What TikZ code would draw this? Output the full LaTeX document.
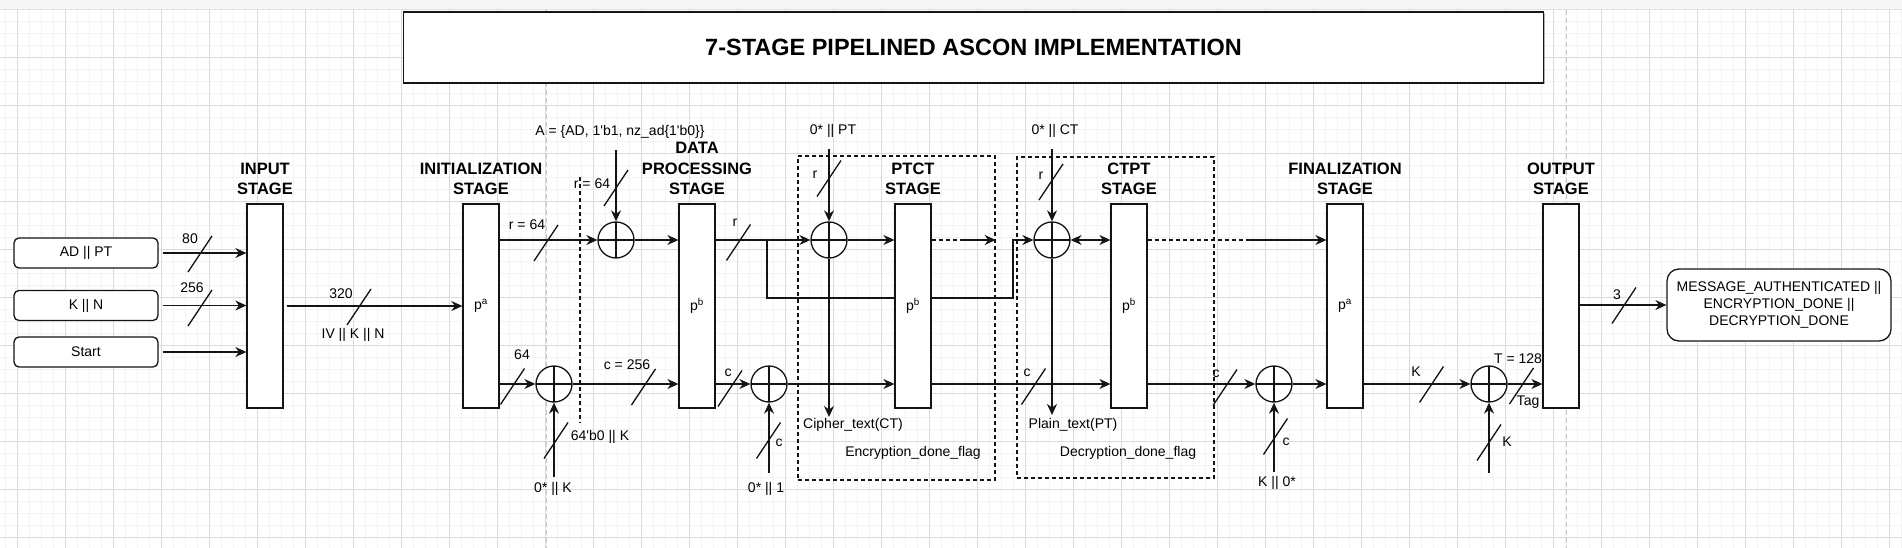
\documentclass[tikz,border=0pt]{standalone}
\usepackage{fontspec}
\setmainfont{Liberation Sans}
\usetikzlibrary{arrows.meta, positioning, shadows}
\definecolor{inkdark}{RGB}{20,20,20}
\definecolor{gridmajor}{RGB}{218,218,218}
\definecolor{gridminor}{RGB}{243,243,243}
\definecolor{pagebrk}{RGB}{196,196,196}
\tikzset{
  stagebox/.style={rectangle, draw=inkdark, fill=white, minimum width=36pt,
    minimum height=204pt, inner sep=0pt, line width=1.3pt,
    font=\fontsize{14}{17}\selectfont},
  inbox/.style={rectangle, draw=inkdark, fill=white, minimum width=144pt,
    minimum height=30pt, rounded corners=5pt, line width=1.3pt,
    font=\fontsize{14}{17}\selectfont},
  msgbox/.style={rectangle, draw=inkdark, fill=white, minimum width=224pt,
    minimum height=72pt, rounded corners=12pt, line width=1.3pt,
    align=center, font=\fontsize{14}{17}\selectfont},
  titlebox/.style={rectangle, draw=inkdark, fill=white, minimum width=1140pt,
    minimum height=71pt, line width=1.3pt,
    drop shadow={shadow xshift=1.5pt, shadow yshift=-1.5pt, fill=black!60},
    font=\fontsize{23.5}{28}\selectfont\bfseries},
  xorgate/.style={circle, draw=inkdark, fill=white, minimum size=36pt,
    inner sep=0pt, line width=1.3pt,
    path picture={\draw[line width=1.3pt, inkdark]
      (path picture bounding box.north) -- (path picture bounding box.south)
      (path picture bounding box.west) -- (path picture bounding box.east);}},
  frame/.style={rectangle, draw=inkdark, dash pattern=on 4pt off 3pt,
    line width=1.3pt, inner sep=0pt},
  stagelbl/.style={font=\fontsize{16.5}{20.5}\selectfont\bfseries,
    align=center, inner sep=0pt},
  lbl/.style={font=\fontsize{14}{17}\selectfont, inner sep=0pt},
  arrow/.style={-{Stealth[length=11pt, width=10pt]}, line width=1.3pt, color=inkdark},
  dblarrow/.style={{Stealth[length=11pt, width=10pt]}-{Stealth[length=11pt, width=10pt]},
    line width=1.3pt, color=inkdark},
  line/.style={line width=1.3pt, color=inkdark},
  dashline/.style={line width=1.3pt, color=inkdark, dash pattern=on 4pt off 3pt},
  slash/.style={line width=1.3pt, color=inkdark}
}

\begin{document}
\begin{tikzpicture}[x=1pt, y=-1pt, node distance=178.7pt]
  \useasboundingbox (0,0) rectangle (1902,548);
  % canvas
  \fill[black!3] (0,0) rectangle (1902,9.3);
  \draw[black!12, line width=1pt] (0,9.3) -- (1902,9.3);
  \foreach \gx in {5.3,17.3,...,1902}
    \draw[gridminor, line width=1pt] (\gx,9.8) -- (\gx,548);
  \foreach \gy in {21.3,33.3,...,548}
    \draw[gridminor, line width=1pt] (0,\gy) -- (1902,\gy);
  \foreach \gx in {17.3,65.3,...,1902}
    \draw[gridmajor, line width=1pt] (\gx,9.8) -- (\gx,548);
  \foreach \gy in {57.3,105.3,...,548}
    \draw[gridmajor, line width=1pt] (0,\gy) -- (1902,\gy);
  \draw[pagebrk, line width=1pt, dash pattern=on 5pt off 3pt] (546.5,9.8) -- (546.5,548);
  \draw[pagebrk, line width=1pt, dash pattern=on 5pt off 3pt] (1566.7,9.8) -- (1566.7,548);

  % title
  \node[titlebox] (title) at (973.5,47.5) {7-STAGE PIPELINED ASCON IMPLEMENTATION};

  % stages
  \node[stagebox] (input) at (265,306) {};
  \node[stagebox, right=of input] (init) {p\textsuperscript{a}};
  \node[stagebox, right=of init] (dp) {p\textsuperscript{b}};
  \node[stagebox, right=of dp] (ptct) {p\textsuperscript{b}};
  \node[stagebox, right=of ptct] (ctpt) {p\textsuperscript{b}};
  \node[stagebox, right=of ctpt] (fin) {p\textsuperscript{a}};
  \node[stagebox, right=of fin] (out) {};
  \node[stagelbl, above=8pt of input] (inputlbl) {INPUT\\STAGE};
  \node[stagelbl, above=8pt of init] (initlbl) {INITIALIZATION\\STAGE};
  \node[stagelbl, above=8pt of dp] (dplbl) {DATA\\PROCESSING\\STAGE};
  \node[stagelbl, above=8pt of ptct] (ptctlbl) {PTCT\\STAGE};
  \node[stagelbl, above=8pt of ctpt] (ctptlbl) {CTPT\\STAGE};
  \node[stagelbl, above=8pt of fin] (finlbl) {FINALIZATION\\STAGE};
  \node[stagelbl, above=8pt of out] (outlbl) {OUTPUT\\STAGE};

  % dashed stage frames
  \node[frame, minimum width=197pt, minimum height=324pt] (encframe) at (896.5,318) {};
  \node[frame, minimum width=197pt, minimum height=321pt] (decframe) at (1115.5,317.5) {};

  % inputs and output
  \node[inbox] (adpt) at (86,253) {AD || PT};
  \node[inbox] (kn) at (86,305.5) {K || N};
  \node[inbox] (start) at (86,352) {Start};
  \node[msgbox] (msg) at (1779,305)
    {MESSAGE\_AUTHENTICATED ||\\ENCRYPTION\_DONE ||\\DECRYPTION\_DONE};

  % xor gates
  \node[xorgate] (xk) at (554,384) {};
  \node[xorgate] (xa) at (616,240) {};
  \node[xorgate] (xc) at (769,384) {};
  \node[xorgate] (xpt) at (829,240) {};
  \node[xorgate] (xct) at (1052,240) {};
  \node[xorgate] (xfin) at (1274,384) {};
  \node[xorgate] (xtag) at (1489,384) {};

  % free ends
  \coordinate (atop) at (616,150);
  \coordinate (kbot) at (554,477);
  \coordinate (onebot) at (769,473);
  \coordinate (pttop) at (829,149);
  \coordinate (ctbot) at (829,417);
  \coordinate (cttop) at (1052,149);
  \coordinate (ptbot) at (1052,415);
  \coordinate (kzbot) at (1274,472);
  \coordinate (ktbot) at (1489,473);
  \coordinate (brk) at (767,240);
  \coordinate (jog) at (1013,298);
  \coordinate (encdash) at (960,240);
  \coordinate (decdash) at (1250,240);
  \coordinate (strayA) at (580,177);
  \coordinate (strayB) at (580,423);

  % connectors
  \draw[arrow, shorten <=4pt] (adpt) -- (adpt -| input.west);
  \draw[arrow, shorten <=4pt] (kn) -- (kn -| input.west);
  \draw[arrow, shorten <=4pt] (start) -- (start -| input.west);
  \draw[arrow, shorten <=3pt] (input) -- (init);
  \draw[arrow] (init.east |- xa) -- (xa);
  \draw[arrow] (atop) -- (xa);
  \draw[arrow] (xa) -- (dp.west |- xa);
  \draw[arrow] (init.east |- xk) -- (xk);
  \draw[arrow] (kbot) -- (xk);
  \draw[arrow] (xk) -- (dp.west |- xk);
  \draw[arrow] (dp.east |- xc) -- (xc);
  \draw[arrow] (onebot) -- (xc);
  \draw[arrow] (xc) -- (ptct.west |- xc);
  \draw[arrow] (dp.east |- xpt) -- (xpt);
  \draw[line] (brk) |- (ptct.west |- jog);
  \draw[arrow] (ptct.east |- jog) -- (jog) |- (xct);
  \draw[arrow] (pttop) -- (xpt);
  \draw[arrow] (xpt.south) -- (ctbot);
  \draw[arrow] (xpt) -- (ptct.west |- xpt);
  \draw[dashline] (ptct.east |- xpt) -- (encdash);
  \draw[arrow] (encdash) -- (encframe.east |- xpt);
  \draw[arrow] (ptct.east |- xc) -- (ctpt.west |- xc);
  \draw[arrow] (cttop) -- (xct);
  \draw[arrow] (xct.south) -- (ptbot);
  \draw[dblarrow] (xct) -- (ctpt.west |- xct);
  \draw[dashline] (ctpt.east |- xct) -- (decdash);
  \draw[arrow] (decdash) -- (fin.west |- xct);
  \draw[arrow] (ctpt.east |- xfin) -- (xfin);
  \draw[arrow] (kzbot) -- (xfin);
  \draw[arrow] (xfin) -- (fin.west |- xfin);
  \draw[arrow] (fin.east |- xtag) -- (xtag);
  \draw[arrow] (ktbot) -- (xtag);
  \draw[arrow] (xtag) -- (out.west |- xtag);
  \draw[arrow] (out.east |- msg) -- (msg);
  \draw[dashline] (strayA) -- (strayB);

  % bus width marks
  \foreach \sx/\sy in {200/254, 200/308, 359/307, 546/243, 616/188, 512.5/386.5,
      556/440.5, 643.5/387, 738.5/242.5, 730/388.5, 768.5/440.5, 829/178.5,
      1033.5/386.5, 1051/182, 1225/387.5, 1275.5/436.5, 1431.5/384.5,
      1489/442.5, 1521.5/386, 1624/305.5}
    \draw[slash] (\sx,\sy) +(-12,18) -- +(12,-18);

  % labels
  \node[lbl] (l80) at (190,239) {80};
  \node[lbl] (l256) at (192,288) {256};
  \node[lbl] (l320) at (341,294) {320};
  \node[lbl] (livkn) at (353,335) {IV || K || N};
  \node[lbl] (lrinit) at (527,225) {r = 64};
  \node[lbl] (la) at (620,132) {A = \{AD, 1\textquotesingle b1, nz\_ad\{1\textquotesingle b0\}\}};
  \node[lbl] (lra) at (592,184) {r = 64};
  \node[lbl] (l64) at (522,355) {64};
  \node[lbl] (lkpad) at (600,437) {64\textquotesingle b0 || K};
  \node[lbl] (lzk) at (553,489) {0* || K};
  \node[lbl] (lc256) at (627,365) {c = 256};
  \node[lbl] (lrdp) at (735,223) {r};
  \node[lbl] (lcdp) at (728,373) {c};
  \node[lbl] (lcone) at (779,443) {c};
  \node[lbl] (lzone) at (766,489) {0* || 1};
  \node[lbl] (lzpt) at (833,131) {0* || PT};
  \node[lbl] (lrpt) at (815,175) {r};
  \node[lbl] (lct) at (853,425) {Cipher\_text(CT)};
  \node[lbl] (lenc) at (913,453) {Encryption\_done\_flag};
  \node[lbl] (lcmid) at (1027,373) {c};
  \node[lbl] (lzct) at (1055,131) {0* || CT};
  \node[lbl] (lrct) at (1041,176) {r};
  \node[lbl] (lpt) at (1073,425) {Plain\_text(PT)};
  \node[lbl] (ldec) at (1128,453) {Decryption\_done\_flag};
  \node[lbl] (lcdec) at (1216,374) {c};
  \node[lbl] (lcfin) at (1286,442) {c};
  \node[lbl] (lkz) at (1277,483) {K || 0*};
  \node[lbl] (lkfin) at (1416,372) {K};
  \node[lbl] (lktag) at (1507,442) {K};
  \node[lbl] (lt128) at (1518,359) {T = 128};
  \node[lbl] (ltag) at (1528,402) {Tag};
  \node[lbl] (l3) at (1617,295) {3};
\end{tikzpicture}
\end{document}
